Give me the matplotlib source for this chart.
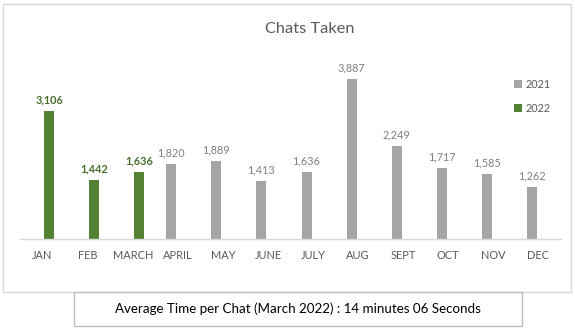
import numpy as np
import matplotlib
matplotlib.use("Agg")
import matplotlib.pyplot as plt
from matplotlib.patches import Rectangle

months = ["JAN", "FEB", "MARCH", "APRIL", "MAY", "JUNE", "JULY", "AUG",
          "SEPT", "OCT", "NOV", "DEC"]
chats_2021 = [np.nan, np.nan, np.nan, 1820, 1889, 1413, 1636, 3887, 2249, 1717, 1585, 1262]
chats_2022 = [3106, 1442, 1636, np.nan, np.nan, np.nan, np.nan, np.nan, np.nan, np.nan, np.nan, np.nan]
series_names = ["2021", "2022"]
title = "Chats Taken"
footnote = "Average Time per Chat (March 2022) : 14 minutes 06 Seconds"

W, H = 575, 333
plt.rcParams["font.family"] = ["Lato", "DejaVu Sans"]

GRAY = "#a5a5a5"
GREEN = "#548235"
TEXT = "#595959"


def fx(px):
    return px / W


def fy(py):
    return 1 - py / H


fig = plt.figure(figsize=(W / 100, H / 100), dpi=100)
fig.patch.set_facecolor("white")

# plot area in pixel coordinates
left, right, top, bottom = 20, 561, 33, 239
ax = fig.add_axes([fx(left), fy(bottom), (right - left) / W, (bottom - top) / H])
ax.set_facecolor("none")

x = np.arange(len(months))
bw = 0.222
off = 0.144
b21 = ax.bar(x - off, chats_2021, bw, color=GRAY, label=series_names[0], zorder=2)
b22 = ax.bar(x + off, chats_2022, bw, color=GREEN, label=series_names[1], zorder=2)

for rect, v in zip(b21, chats_2021):
    if not np.isnan(v):
        ax.annotate(f"{int(v):,}", (rect.get_x() + rect.get_width() / 2, v),
                    xytext=(0, 4), textcoords="offset points", ha="center",
                    va="bottom", fontsize=7.8, color="#7f7f7f")
for rect, v in zip(b22, chats_2022):
    if not np.isnan(v):
        ax.annotate(f"{int(v):,}", (rect.get_x() + rect.get_width() / 2, v),
                    xytext=(0, 4), textcoords="offset points", ha="center",
                    va="bottom", fontsize=7.8, color="#476d2b", fontweight="bold")

ax.set_xlim(-0.5, len(months) - 0.5)
ax.set_ylim(0, 5000)
ax.set_xticks(x)
ax.set_xticklabels(months, fontsize=7.9, color=TEXT)
ax.tick_params(axis="x", length=0, pad=8)
ax.set_yticks([])
for s in ("top", "left", "right"):
    ax.spines[s].set_visible(False)
ax.spines["bottom"].set_color("#d9d9d9")
ax.spines["bottom"].set_linewidth(1)

leg = ax.legend(loc="upper left", bbox_to_anchor=(fx(514), fy(79)),
                bbox_transform=fig.transFigure, frameon=False, fontsize=7.8,
                handlelength=0.75, handleheight=0.75, handletextpad=0.3,
                labelspacing=1.2, borderpad=0, borderaxespad=0)
for t in leg.get_texts():
    t.set_color(TEXT)

fig.text(fx(310), fy(29), title, ha="center", va="center", fontsize=11.8, color=TEXT)

# chart frame and caption box
fig.add_artist(Rectangle((fx(2.5), fy(292)), (571 - 2.5) / W, (292 - 4) / H,
                         transform=fig.transFigure, fill=False,
                         edgecolor="#d9d9d9", linewidth=1))
fig.add_artist(Rectangle((fx(74), fy(326)), (522 - 74) / W, (326 - 292) / H,
                         transform=fig.transFigure, fill=False,
                         edgecolor="#bfbfbf", linewidth=1))
fig.text(fx(298), fy(309), footnote, ha="center", va="center",
         fontsize=9.6, color="black")

fig.savefig("out.png", dpi=100, facecolor="white")
